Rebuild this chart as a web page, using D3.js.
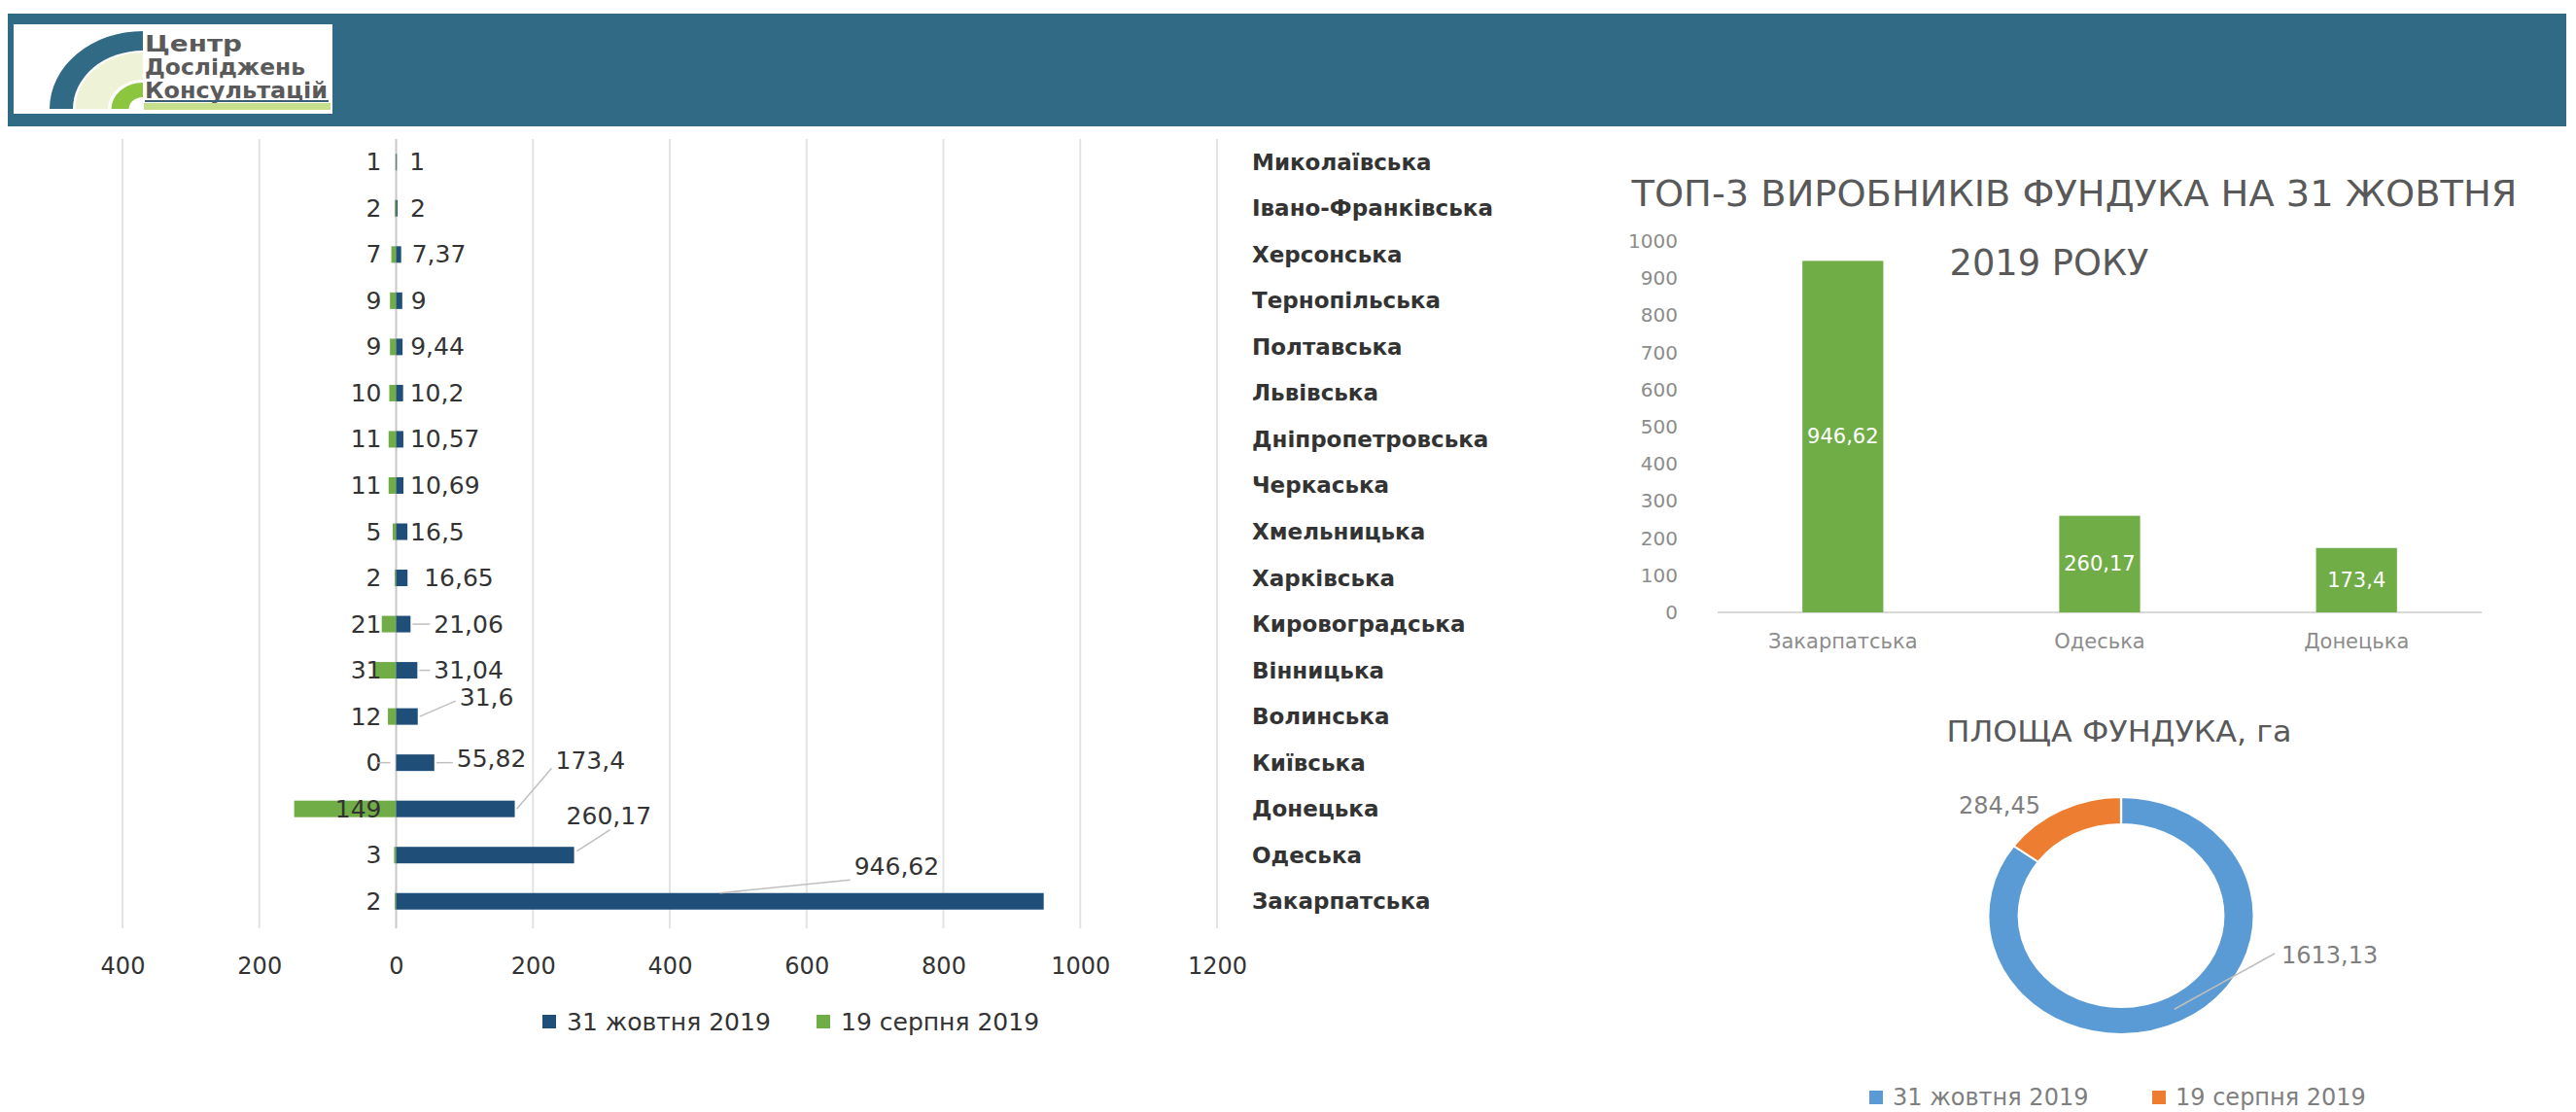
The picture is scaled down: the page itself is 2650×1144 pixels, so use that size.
<!DOCTYPE html>
<html>
<head>
<meta charset="utf-8">
<script src="https://cdn.jsdelivr.net/npm/d3@7"></script>
<style>
  body { margin: 0; background: #fff; }
  svg { display: block; }
  text { font-family: "DejaVu Sans", sans-serif; }
</style>
</head>
<body>
<svg id="chart" width="2650" height="1144"></svg>
<script>
// --- data ---
const regions = ["Миколаївська", "Івано-Франківська", "Херсонська", "Тернопільська", "Полтавська",
    "Львівська", "Дніпропетровська", "Черкаська", "Хмельницька", "Харківська", "Кировоградська",
    "Вінницька", "Волинська", "Київська", "Донецька", "Одеська", "Закарпатська"];
const oct31 = [1, 2, 7.37, 9, 9.44, 10.2, 10.57, 10.69, 16.5, 16.65, 21.06, 31.04, 31.6, 55.82, 173.4, 260.17, 946.62];
const aug19 = [1, 2, 7, 9, 9, 10, 11, 11, 5, 2, 21, 31, 12, 0, 149, 3, 2];
const xTicks = [-400, -200, 0, 200, 400, 600, 800, 1000, 1200];
const seriesNames = ["31 жовтня 2019", "19 серпня 2019"];

const top3Regions = ["Закарпатська", "Одеська", "Донецька"];
const top3Values = [946.62, 260.17, 173.4];
const top3Ticks = [0, 100, 200, 300, 400, 500, 600, 700, 800, 900, 1000];

const areaValues = [1613.13, 284.45];

// label placement for the blue series (offset from bar end, px)
const blueLabelLayout = [
    [13, 0], [13, 0], [11, 0], [9, 0], [8, 0], [7, 0], [7, 0], [7, 0], [3, 0], [17, 0],
    [24, 0, true], [17, 0, true], [43, -20, true], [23, -4, true], [42, -50, true], [-8, -40, true], [-195, -36, true]
];

const fmt = v => String(v).replace('.', ',');
const BLUE = "#1f4e79", GREEN = "#70ad47";
const svg = d3.select("#chart");

// --- header banner with logo ---
svg.append("rect").attr("x", 8).attr("y", 14).attr("width", 2632).attr("height", 116).attr("fill", "#316a85");
svg.append("rect").attr("x", 14).attr("y", 25).attr("width", 328).attr("height", 92).attr("fill", "#fff");
const logo = svg.append("g").attr("transform", "translate(147,112) scale(1.2,1)");
const logoArc = d3.arc();
[[60, 80, "#316a85"], [30, 58, "#eef3d8"], [12, 27, "#8cc63e"]].forEach(([ri, ro, c]) => {
    logo.append("path")
        .attr("d", logoArc({ innerRadius: ri, outerRadius: ro, startAngle: -Math.PI / 2, endAngle: 0 }))
        .attr("fill", c);
});
svg.append("rect").attr("x", 148).attr("y", 106).attr("width", 192).attr("height", 7).attr("fill", "#c6df8c");
["Центр", "Досліджень", "Консультацій"].forEach((t, i) => {
    svg.append("text").attr("x", 149).attr("y", 53 + i * 24)
        .attr("font-size", 23).attr("font-weight", "bold").attr("fill", "#5a5a5a")
        .attr("textLength", [100, 165, 188][i]).attr("lengthAdjust", "spacingAndGlyphs")
        .text(t);
});
svg.append("line").attr("x1", 149).attr("x2", 338).attr("y1", 104).attr("y2", 104)
    .attr("stroke", "#3b5f78").attr("stroke-width", 2);

// --- left: butterfly bar chart ---
const x = d3.scaleLinear().domain([-400, 1200]).range([126, 1252]);
const y = d3.scaleBand().domain(regions).range([143, 951]);
const barH = 17;
const rowY = r => y(r) + y.bandwidth() / 2;

svg.append("g").selectAll("line").data(xTicks).join("line")
    .attr("x1", d => x(d)).attr("x2", d => x(d))
    .attr("y1", 143).attr("y2", 955)
    .attr("stroke", d => d === 0 ? "#c8c8c8" : "#e3e3e3").attr("stroke-width", 2);

svg.append("g").selectAll("rect").data(regions).join("rect")
    .attr("x", (d, i) => x(-aug19[i]))
    .attr("width", (d, i) => x(0) - x(-aug19[i]))
    .attr("y", d => rowY(d) - barH / 2).attr("height", barH)
    .attr("fill", GREEN);

svg.append("g").selectAll("rect").data(regions).join("rect")
    .attr("x", x(0))
    .attr("width", (d, i) => x(oct31[i]) - x(0))
    .attr("y", d => rowY(d) - barH / 2).attr("height", barH)
    .attr("fill", BLUE);

// green labels (right-aligned next to the zero line)
svg.append("g").selectAll("text").data(regions).join("text")
    .attr("x", x(0) - 15).attr("y", rowY)
    .attr("text-anchor", "end").attr("dominant-baseline", "central")
    .attr("font-size", 25).attr("fill", "#333")
    .text((d, i) => fmt(aug19[i]));
// short leader for the zero value
regions.forEach((r, i) => {
    if (aug19[i] === 0) {
        svg.append("line").attr("x1", x(0) - 20).attr("x2", x(0) - 6)
            .attr("y1", rowY(r)).attr("y2", rowY(r)).attr("stroke", "#bfbfbf").attr("stroke-width", 1.5);
    }
});

// blue labels with leader lines
const leaders = svg.append("g");
regions.forEach((r, i) => {
    const [dx, dy, lead] = blueLabelLayout[i];
    const bx = x(oct31[i]), by = rowY(r);
    const lx = bx + dx, ly = by + dy;
    svg.append("text").attr("x", lx).attr("y", ly)
        .attr("dominant-baseline", "central")
        .attr("font-size", 25).attr("fill", "#333")
        .text(fmt(oct31[i]));
    if (lead) {
        let sx = bx + 2, sy = by;
        if (dx < 0) {
            // long bar: line from the bar's upper edge
            sx = dx < -100 ? x(oct31[i] / 2) : bx + 3;
            sy = dx < -100 ? by - barH / 2 : by - 4;
        }
        const ex = dx < 0 ? lx + (dx < -100 ? -4 : 45) : lx - 4;
        const ey = dx < 0 ? ly + 14 : ly + (dy < -30 ? 8 : dy < 0 ? 4 : 0);
        leaders.append("line").attr("x1", sx).attr("y1", sy).attr("x2", ex).attr("y2", ey)
            .attr("stroke", "#bfbfbf").attr("stroke-width", 1.5);
    }
});

// category labels
svg.append("g").selectAll("text").data(regions).join("text")
    .attr("x", 1288).attr("y", rowY)
    .attr("dominant-baseline", "central")
    .attr("font-size", 23).attr("font-weight", "bold").attr("fill", "#333")
    .text(d => d);

// x axis
const xAxis = svg.append("g").attr("transform", "translate(0,994)")
    .call(d3.axisBottom(x).tickValues(xTicks).tickSize(0).tickFormat(d => Math.abs(d)));
xAxis.select(".domain").remove();
xAxis.selectAll("text").attr("y", 0).attr("dy", "0.35em")
    .attr("font-size", 24).attr("font-family", "DejaVu Sans").attr("fill", "#333");

// left legend
[[558, BLUE], [840, GREEN]].forEach(([lx, c], i) => {
    svg.append("rect").attr("x", lx).attr("y", 1044).attr("width", 14).attr("height", 14).attr("fill", c);
    svg.append("text").attr("x", lx + 25).attr("y", 1051).attr("dominant-baseline", "central")
        .attr("font-size", 25).attr("fill", "#333").text(seriesNames[i]);
});

// --- right top: top-3 column chart ---
const xb = d3.scaleBand().domain(top3Regions).range([1767, 2553]).paddingInner(0.685).paddingOuter(0.33);
const yb = d3.scaleLinear().domain([0, 1000]).range([630, 248]);

svg.append("line").attr("x1", 1767).attr("x2", 2553).attr("y1", yb(0)).attr("y2", yb(0))
    .attr("stroke", "#d9d9d9").attr("stroke-width", 2);

const yAxis = svg.append("g").attr("transform", "translate(1726,0)")
    .call(d3.axisLeft(yb).tickValues(top3Ticks).tickSize(0).tickPadding(0).tickFormat(d => d));
yAxis.select(".domain").remove();
yAxis.selectAll("text").attr("font-size", 20).attr("font-family", "DejaVu Sans").attr("fill", "#8c8c8c");

svg.append("g").selectAll("rect").data(top3Regions).join("rect")
    .attr("x", d => xb(d)).attr("width", xb.bandwidth())
    .attr("y", (d, i) => yb(top3Values[i])).attr("height", (d, i) => yb(0) - yb(top3Values[i]))
    .attr("fill", GREEN);

svg.append("g").selectAll("text").data(top3Regions).join("text")
    .attr("x", d => xb(d) + xb.bandwidth() / 2)
    .attr("y", (d, i) => (yb(top3Values[i]) + yb(0)) / 2)
    .attr("text-anchor", "middle").attr("dominant-baseline", "central")
    .attr("font-size", 21).attr("fill", "#fff")
    .text((d, i) => fmt(top3Values[i]));

svg.append("g").selectAll("text").data(top3Regions).join("text")
    .attr("x", d => xb(d) + xb.bandwidth() / 2).attr("y", 660)
    .attr("text-anchor", "middle").attr("dominant-baseline", "central")
    .attr("font-size", 21).attr("fill", "#8c8c8c")
    .text(d => d);

svg.append("text").attr("x", 2134).attr("y", 199).attr("text-anchor", "middle").attr("dominant-baseline", "central")
    .attr("font-size", 38).attr("fill", "#595959")
    .attr("textLength", 911).attr("lengthAdjust", "spacingAndGlyphs")
    .text("ТОП-3 ВИРОБНИКІВ ФУНДУКА НА 31 ЖОВТНЯ");
svg.append("text").attr("x", 2108).attr("y", 270).attr("text-anchor", "middle").attr("dominant-baseline", "central")
    .attr("font-size", 38).attr("fill", "#595959")
    .attr("textLength", 205).attr("lengthAdjust", "spacingAndGlyphs")
    .text("2019 РОКУ");

// --- right bottom: doughnut ---
svg.append("text").attr("x", 2180).attr("y", 752).attr("text-anchor", "middle").attr("dominant-baseline", "central")
    .attr("font-size", 31).attr("fill", "#595959")
    .attr("textLength", 355).attr("lengthAdjust", "spacingAndGlyphs")
    .text("ПЛОЩА ФУНДУКА, га");

const pie = d3.pie().sort(null)(areaValues);
const arc = d3.arc().innerRadius(94).outerRadius(122);
const donut = svg.append("g").attr("transform", "translate(2182,942) scale(1.12,1)");
donut.selectAll("path").data(pie).join("path")
    .attr("d", arc)
    .attr("fill", (d, i) => ["#5b9bd5", "#ed7d31"][i])
    .attr("stroke", "#fff").attr("stroke-width", 2);

const c0 = arc.centroid(pie[0]);
svg.append("line")
    .attr("x1", 2182 + c0[0] * 1.12).attr("y1", 942 + c0[1])
    .attr("x2", 2340).attr("y2", 981)
    .attr("stroke", "#bfbfbf").attr("stroke-width", 1.5);
svg.append("text").attr("x", 2347).attr("y", 983).attr("dominant-baseline", "central")
    .attr("font-size", 24).attr("fill", "#7f7f7f").text(fmt(areaValues[0]));
svg.append("text").attr("x", 2057).attr("y", 829).attr("text-anchor", "middle").attr("dominant-baseline", "central")
    .attr("font-size", 24).attr("fill", "#7f7f7f").text(fmt(areaValues[1]));

[[1923, "#5b9bd5"], [2214, "#ed7d31"]].forEach(([lx, c], i) => {
    svg.append("rect").attr("x", lx).attr("y", 1122).attr("width", 14).attr("height", 14).attr("fill", c);
    svg.append("text").attr("x", lx + 24).attr("y", 1129).attr("dominant-baseline", "central")
        .attr("font-size", 24).attr("fill", "#7f7f7f").text(seriesNames[i]);
});
</script>
</body>
</html>
